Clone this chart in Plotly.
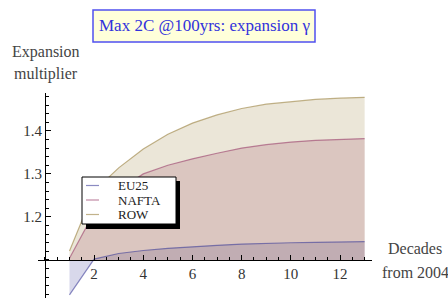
import plotly.graph_objects as go

# ---- data ----
decades = [1, 2, 3, 4, 5, 6, 7, 8, 9, 10, 11, 12, 13]
eu25 = [1.019, 1.102, 1.115, 1.122, 1.127, 1.131, 1.134, 1.137, 1.139, 1.140, 1.141, 1.142, 1.1426]
nafta = [1.104, 1.210, 1.262, 1.300, 1.320, 1.335, 1.348, 1.360, 1.368, 1.374, 1.378, 1.380, 1.382]
row = [1.121, 1.260, 1.314, 1.358, 1.392, 1.418, 1.437, 1.452, 1.462, 1.468, 1.473, 1.476, 1.478]
series_names = ["EU25", "NAFTA", "ROW"]
x_tick_vals = [2, 4, 6, 8, 10, 12]
y_tick_vals = [1.2, 1.3, 1.4]
baseline = 1.1

# ---- style ----
W, H = 448, 298
ML, MR, MT, MB = 38, 76, 93, 0
XR = [-0.28, 13.3]
YR = [1.0116, 1.488]
colors = [(61, 61, 153), (153, 61, 107), (153, 128, 61)]
serif = "Liberation Serif"

PW = W - ML - MR
PH = H - MT - MB


def px2paper(px, py):
    return (px - ML) / PW, (H - MB - py) / PH


fig = go.Figure()
all_series = [eu25, nafta, row]
for name, vals, c in zip(series_names, all_series, colors):
    fig.add_trace(go.Scatter(
        x=decades + decades[::-1],
        y=vals + [baseline] * len(decades),
        fill="toself",
        fillcolor="rgba(%d,%d,%d,0.2)" % c,
        line=dict(width=0),
        mode="lines",
        hoverinfo="skip",
        showlegend=False,
    ))
for name, vals, c in zip(series_names, all_series, colors):
    fig.add_trace(go.Scatter(
        x=decades, y=vals, mode="lines", name=name,
        line=dict(color="rgba(%d,%d,%d,0.6)" % c, width=1.2),
        showlegend=False,
    ))

xpos = (baseline - YR[0]) / (YR[1] - YR[0])
ypos = (0 - XR[0]) / (XR[1] - XR[0])

fig.update_layout(
    width=W, height=H,
    margin=dict(l=ML, r=MR, t=MT, b=MB, pad=0),
    paper_bgcolor="white", plot_bgcolor="white",
    showlegend=False,
    font=dict(family=serif, color="#333333", size=13),
    xaxis=dict(
        range=XR, anchor="free", position=xpos,
        showgrid=False, zeroline=False,
        showline=True, linecolor="black", linewidth=1,
        tickmode="array", tickvals=x_tick_vals,
        ticks="inside", ticklen=5, tickcolor="black", tickwidth=1,
        minor=dict(dtick=0.5, tick0=0, ticks="inside", ticklen=3, tickcolor="black", showgrid=False),
        tickfont=dict(family=serif, size=15, color="#333333"),
    ),
    yaxis=dict(
        range=YR, anchor="free", position=ypos,
        showgrid=False, zeroline=False,
        showline=True, linecolor="black", linewidth=1,
        tickmode="array", tickvals=y_tick_vals, ticktext=["1.2", "1.3", "1.4"],
        ticks="inside", ticklen=5, tickcolor="black", tickwidth=1,
        minor=dict(dtick=0.02, tick0=1.0, ticks="inside", ticklen=3, tickcolor="black", showgrid=False),
        tickfont=dict(family=serif, size=15, color="#333333"),
    ),
)

shapes = []
ann = []

# title box
x0, y0 = px2paper(93, 42)
x1, y1 = px2paper(315, 10)
shapes.append(dict(type="rect", xref="paper", yref="paper", x0=x0, y0=y0, x1=x1, y1=y1,
                   fillcolor="rgb(255,255,218)", line=dict(color="rgb(80,80,240)", width=1.5), layer="above"))
tx, ty = px2paper(205, 26)
ann.append(dict(xref="paper", yref="paper", x=tx, y=ty, text="Max 2C @100yrs: expansion γ",
                showarrow=False, xanchor="center", yanchor="middle",
                font=dict(family=serif, size=17, color="rgb(50,50,220)")))

# axis labels
for txt, (px, py) in [("Expansion", (46, 52)), ("multiplier", (46, 74)),
                      ("Decades", (415, 248)), ("from 2004", (415, 272))]:
    ax_, ay_ = px2paper(px, py)
    ann.append(dict(xref="paper", yref="paper", x=ax_, y=ay_, text=txt, showarrow=False,
                    xanchor="center", yanchor="middle",
                    font=dict(family=serif, size=16, color="#444444")))

# legend (shadow + box)
sx0, sy0 = px2paper(86, 229)
sx1, sy1 = px2paper(180, 181)
shapes.append(dict(type="rect", xref="paper", yref="paper", x0=sx0, y0=sy0, x1=sx1, y1=sy1,
                   fillcolor="black", line=dict(width=0), layer="above"))
bx0, by0 = px2paper(82, 224)
bx1, by1 = px2paper(176, 177)
shapes.append(dict(type="rect", xref="paper", yref="paper", x0=bx0, y0=by0, x1=bx1, y1=by1,
                   fillcolor="white", line=dict(color="black", width=1), layer="above"))
for name, c, py in zip(series_names, colors, [185.5, 200, 214.5]):
    lx0, ly = px2paper(86, py)
    lx1, _ = px2paper(99, py)
    shapes.append(dict(type="line", xref="paper", yref="paper", x0=lx0, x1=lx1, y0=ly, y1=ly,
                       line=dict(color="rgba(%d,%d,%d,0.6)" % c, width=1.2), layer="above"))
    tx, ty = px2paper(117, py)
    ann.append(dict(xref="paper", yref="paper", x=tx, y=ty, text=name, showarrow=False,
                    xanchor="left", yanchor="middle", borderpad=0,
                    font=dict(family=serif, size=13, color="#222222")))

fig.update_layout(shapes=shapes, annotations=ann)
fig.write_html("out.html", config={"displayModeBar": False})

# remove the default page margin so the figure sits at the window's top-left corner
with open("out.html", "r", encoding="utf-8") as f:
    html = f.read()
html = html.replace("<head>", "<head><style>html,body{margin:0;padding:0;overflow:hidden;}</style>", 1)
with open("out.html", "w", encoding="utf-8") as f:
    f.write(html)
